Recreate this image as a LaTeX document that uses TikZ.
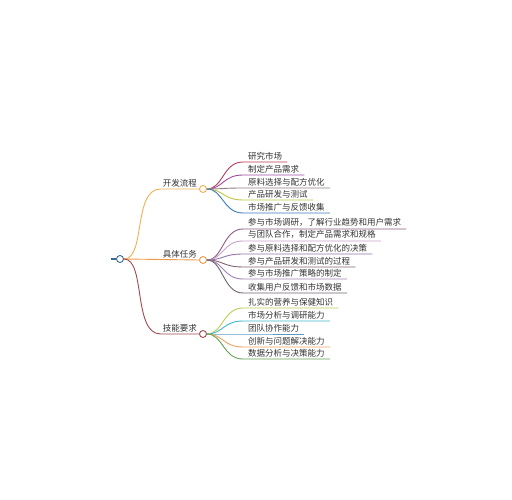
\documentclass[tikz,border=0pt]{standalone}
\usepackage{fontspec}
\newfontfamily\cjk{Noto Sans CJK SC}
\definecolor{rootblue}{HTML}{3A6A9A}
\definecolor{brOrangeA}{HTML}{F2B055}
\definecolor{brOrangeB}{HTML}{F09A48}
\definecolor{brRed}{HTML}{A24A4E}
\definecolor{txt}{HTML}{333333}
\definecolor{dA}{HTML}{B83A5C}
\definecolor{dB}{HTML}{A04CA0}
\definecolor{dC}{HTML}{8E7C82}
\definecolor{dD}{HTML}{C2C444}
\definecolor{dE}{HTML}{3A7AB8}
\definecolor{tA}{HTML}{8C5C82}
\definecolor{tB}{HTML}{C9A2C9}
\definecolor{tC}{HTML}{9272AA}
\definecolor{tD}{HTML}{826272}
\definecolor{tE}{HTML}{A282B2}
\definecolor{tF}{HTML}{726272}
\definecolor{sA}{HTML}{C0CA52}
\definecolor{sB}{HTML}{42B8D0}
\definecolor{sC}{HTML}{5A9AC2}
\definecolor{sD}{HTML}{F2A262}
\definecolor{sE}{HTML}{62A252}
\tikzset{
  dot/.style={circle,fill=white,line width=0.9pt,minimum size=7pt,inner sep=0pt},
  lbl/.style={font=\cjk\fontsize{8.5}{10}\selectfont,text=txt,inner xsep=5pt,inner ysep=2pt},
  link/.style={line width=0.9pt},
}
\begin{document}
\begin{tikzpicture}[x=1pt,y=-1pt]
  \useasboundingbox (0,0) rectangle (512,500);
  % root
  \coordinate (stub) at (111,259);
  \node[dot,draw=rootblue] (root) at (120,259) {};
  \draw[rootblue,line width=1.6pt] (stub) -- (root.west);
  % main branches
  \node[dot,draw=brOrangeA] (dev) at (203,189) {};
  \node[dot,draw=brOrangeB] (task) at (203,260) {};
  \node[dot,draw=brRed] (skill) at (203,334) {};
  \node[lbl,anchor=south east,inner xsep=2pt] (devlbl) at (dev.west) {开发流程};
  \node[lbl,anchor=south east,inner xsep=2pt] (tasklbl) at (task.west) {具体任务};
  \node[lbl,anchor=south east,inner xsep=2pt] (skilllbl) at (skill.west) {技能要求};
  \draw[link,brOrangeA] (root.east) .. controls +(22,0) and +(-28,0) .. (devlbl.south west) -- (dev.west);
  \draw[link,brOrangeB] (root.east) -- (task.west);
  \draw[link,brRed] (root.east) .. controls +(22,0) and +(-28,0) .. (skilllbl.south west) -- (skill.west);
  % leaves
  \foreach \y/\c/\t [count=\i] in {162/dA/研究市场, 175/dB/制定产品需求, 188/dC/原料选择与配方优化,
      200/dD/产品研发与测试, 213/dE/市场推广与反馈收集} {
    \node[lbl,anchor=south west] (dev\i) at (243,\y) {\t};
    \draw[link,\c] (dev.east) .. controls +(16,0) and +(-20,0) .. (dev\i.south west) -- (dev\i.south east);
  }
  \foreach \y/\c/\t [count=\i] in {229/tA/参与市场调研，了解行业趋势和用户需求, 241/tB/与团队合作，制定产品需求和规格,
      254/tC/参与原料选择和配方优化的决策, 267/tD/参与产品研发和测试的过程,
      279/tE/参与市场推广策略的制定, 293/tF/收集用户反馈和市场数据} {
    \node[lbl,anchor=south west] (task\i) at (243,\y) {\t};
    \draw[link,\c] (task.east) .. controls +(16,0) and +(-20,0) .. (task\i.south west) -- (task\i.south east);
  }
  \foreach \y/\c/\t [count=\i] in {308/sA/扎实的营养与保健知识, 321/sB/市场分析与调研能力, 334/sC/团队协作能力,
      347/sD/创新与问题解决能力, 359/sE/数据分析与决策能力} {
    \node[lbl,anchor=south west] (skill\i) at (243,\y) {\t};
    \draw[link,\c] (skill.east) .. controls +(16,0) and +(-20,0) .. (skill\i.south west) -- (skill\i.south east);
  }
\end{tikzpicture}
\end{document}
